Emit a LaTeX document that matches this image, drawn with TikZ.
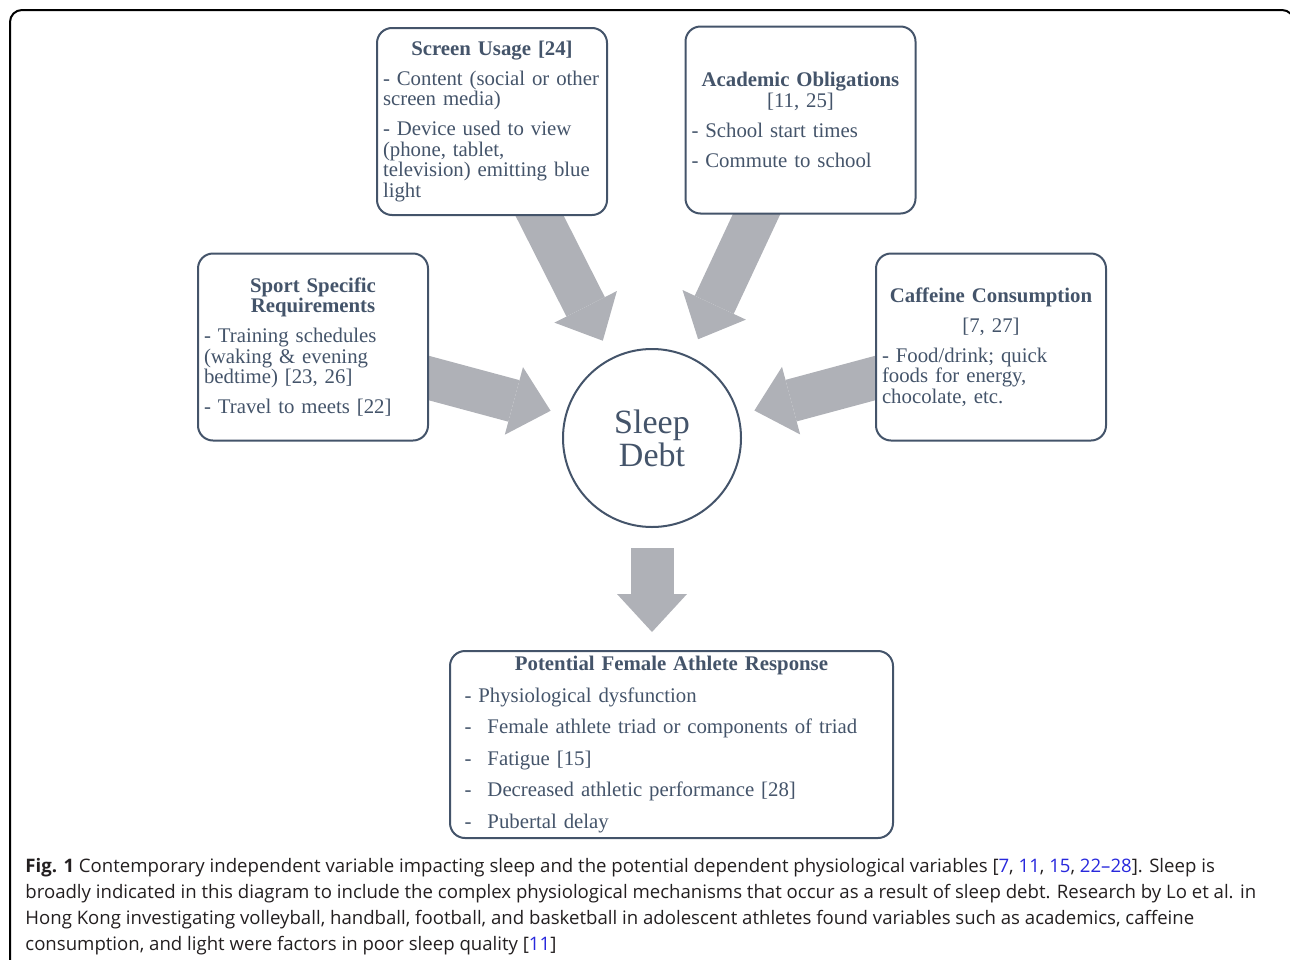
\documentclass[tikz,border=0pt]{standalone}
\usepackage{fontspec}
\setmainfont{Liberation Serif}
\newfontfamily\capfont{Open Sans}
\usetikzlibrary{arrows.meta,backgrounds}
\definecolor{slate}{RGB}{68,84,106}
\definecolor{arrowgray}{RGB}{175,177,183}
\definecolor{citeblue}{RGB}{40,40,220}
\definecolor{captext}{RGB}{35,31,32}
\newcommand{\btitle}[1]{\makebox[\linewidth][c]{\bfseries #1}}
\newcommand{\refnum}[1]{\textcolor{citeblue}{#1}}
\newcommand{\dashitem}{\makebox[11.5pt][l]{-}}
\tikzset{
  factorbox/.style={draw=slate, line width=1pt, rounded corners=7.5pt, fill=white, text=slate,
    align=left, font=\fontsize{10.4}{10.25}\selectfont, inner xsep=3pt, inner ysep=0pt,
    text width=109pt, minimum height=93.5pt},
  debtcircle/.style={circle, draw=slate, line width=1pt, fill=white, text=slate, inner sep=0pt,
    minimum size=89pt, align=center, font=\fontsize{17}{16.5}\selectfont},
  bigarrow/.style={arrowgray, line width=21.5pt, -{Triangle[width=35pt,length=19pt,line width=0pt]}}
}

\begin{document}
\begin{tikzpicture}[x=0.5pt, y=-0.5pt]
	\useasboundingbox (0,0) rectangle (1290,959);
	% figure frame
	\draw[line width=1pt, rounded corners=6pt] (10,10) rectangle (1294,990);

	% factors
	\node[factorbox] (scr) at (492,121.5) {\btitle{Screen Usage [24]}\\[4.75pt]
		- Content (social or other\\ screen media)\\[4.75pt]
		- Device used to view\\ (phone, tablet,\\ television) emitting blue\\ light};
	\node[factorbox] (acad) at (800.5,120) {\btitle{Academic Obligations}\\ \makebox[\linewidth][c]{[11, 25]}\\[4.75pt]
		- School start times\\[4.75pt]
		- Commute to school};
	\node[factorbox] (sport) at (313,347) {\btitle{Sport Specific}\\ \btitle{Requirements}\\[4.75pt]
		- Training schedules\\ (waking \& evening\\ bedtime) [23, 26]\\[4.75pt]
		- Travel to meets [22]};
	\node[factorbox] (caff) at (991,347) {\btitle{Caffeine Consumption}\\[4.75pt] \makebox[\linewidth][c]{[7, 27]}\\[4.75pt]
		- Food/drink; quick\\ foods for energy,\\ chocolate, etc.};

	% sleep debt
	\node[debtcircle] (debt) at (652,438) {Sleep\\Debt};

	% response
	\node[factorbox, text width=207pt, inner xsep=7.25pt] (resp) at (671.5,744.5) {\btitle{Potential Female Athlete Response}\\[5.5pt]
		- Physiological dysfunction\\[5.5pt]
		\dashitem Female athlete triad or components of triad\\[5.5pt]
		\dashitem Fatigue [15]\\[5.5pt]
		\dashitem Decreased athletic performance [28]\\[5.5pt]
		\dashitem Pubertal delay};

	% arrows
	\begin{scope}[on background layer]
		\draw[bigarrow, shorten <=-6pt, shorten >=9.5pt] (scr) -- (debt);
		\draw[bigarrow, shorten <=-6pt, shorten >=9.5pt] (acad) -- (debt);
		\draw[bigarrow, shorten <=-6pt, shorten >=7.5pt] (sport) -- (debt);
		\draw[bigarrow, shorten <=-6pt, shorten >=8pt] (caff) -- (debt);
		\draw[bigarrow, shorten <=10pt, shorten >=9pt] (debt.south) -- (debt.south |- resp.north);
	\end{scope}

	% caption
	\node[anchor=north west, align=left, text=captext, inner sep=0pt,
		font=\capfont\fontsize{9.3}{13}\selectfont] (cap) at (25,858) {\textbf{Fig. 1} Contemporary independent variable impacting sleep and the potential dependent physiological variables [\refnum{7}, \refnum{11}, \refnum{15}, \refnum{22\textendash 28}]. Sleep is\\
		broadly indicated in this diagram to include the complex physiological mechanisms that occur as a result of sleep debt. Research by Lo et al. in\\
		Hong Kong investigating volleyball, handball, football, and basketball in adolescent athletes found variables such as academics, caffeine\\
		consumption, and light were factors in poor sleep quality [\refnum{11}]};
\end{tikzpicture}
\end{document}
